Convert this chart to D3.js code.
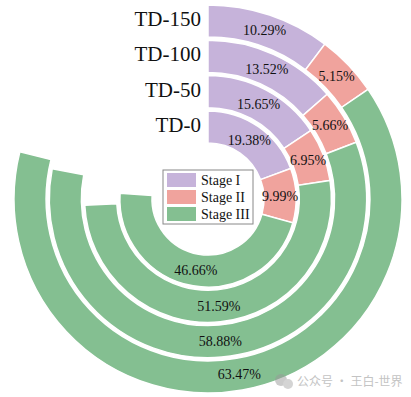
<!DOCTYPE html>
<html>
<head>
<meta charset="utf-8">
<script src="https://cdn.jsdelivr.net/npm/d3@7"></script>
<style>
  body { margin: 0; background: #fff; }
  svg { display: block; font-family: "Liberation Serif", "Times New Roman", serif; }
</style>
</head>
<body>
<div id="chart"></div>
<script>
// Radial stacked bar chart

const groups = ['TD-0', 'TD-50', 'TD-100', 'TD-150'];
const stages = ['Stage I', 'Stage II', 'Stage III'];
const stageI = [19.38, 15.65, 13.52, 10.29];
const stageII = [9.99, 6.95, 5.66, 5.15];
const stageIII = [46.66, 51.59, 58.88, 63.47];
const colors = ['#c6b3da', '#f0a39d', '#84bf91'];

const width = 411;
const height = 397;
const cx = 208;
const cy = 199;

const svg = d3.select('#chart').append('svg')
  .attr('width', width)
  .attr('height', height);

const g = svg.append('g')
  .attr('transform', `translate(${cx},${cy})`);

// Scales
const angle = d3.scaleLinear()
  .domain([0, 100])
  .range([0, 2 * Math.PI]);

const radius = d3.scaleBand()
  .domain(groups)
  .range([56, 194])
  .paddingInner(0.09);

const color = d3.scaleOrdinal()
  .domain(stages)
  .range(colors);

// Build segments
const series = [stageI, stageII, stageIII];
const segments = [];
groups.forEach((grp, i) => {
  let start = 0;
  stages.forEach((st, j) => {
    const v = series[j][i];
    segments.push({ group: grp, stage: st, value: v, start: start, end: start + v });
    start += v;
  });
});

const arc = d3.arc()
  .innerRadius(d => radius(d.group))
  .outerRadius(d => radius(d.group) + radius.bandwidth())
  .startAngle(d => angle(d.start))
  .endAngle(d => angle(d.end));

g.selectAll('path.seg')
  .data(segments)
  .enter()
  .append('path')
  .attr('class', 'seg')
  .attr('d', arc)
  .attr('fill', d => color(d.stage))
  .attr('stroke', '#fff')
  .attr('stroke-width', 1.5);

// Value labels
g.selectAll('text.val')
  .data(segments)
  .enter()
  .append('text')
  .attr('class', 'val')
  .attr('transform', d => {
    const c = arc.centroid(d);
    return `translate(${c[0]},${c[1]})`;
  })
  .attr('text-anchor', 'middle')
  .attr('dy', '0.35em')
  .style('font-size', '14px')
  .style('fill', '#111')
  .text(d => `${d.value.toFixed(2)}%`);

// Group labels
g.selectAll('text.grp')
  .data(groups)
  .enter()
  .append('text')
  .attr('class', 'grp')
  .attr('x', -7)
  .attr('y', d => -(radius(d) + radius.bandwidth() / 2) + 5)
  .attr('text-anchor', 'end')
  .style('font-size', '21px')
  .style('fill', '#111')
  .text(d => d);

// Legend
const legend = svg.append('g')
  .attr('transform', 'translate(163,170)');

legend.append('rect')
  .attr('width', 90)
  .attr('height', 54)
  .attr('fill', '#fff')
  .attr('stroke', '#888')
  .attr('stroke-width', 1);

const items = legend.selectAll('g.item')
  .data(stages)
  .enter()
  .append('g')
  .attr('class', 'item')
  .attr('transform', (d, i) => `translate(4,${3 + i * 17})`);

items.append('rect')
  .attr('width', 29)
  .attr('height', 14)
  .attr('fill', d => color(d));

items.append('text')
  .attr('x', 34)
  .attr('y', 12)
  .style('font-size', '14px')
  .style('fill', '#111')
  .text(d => d);

// Watermark
const wm = svg.append('g')
  .attr('transform', 'translate(281,381)')
  .style('opacity', 0.5);

wm.append('circle').attr('cx', 0).attr('cy', -1).attr('r', 6).attr('fill', '#999');
wm.append('circle').attr('cx', 7).attr('cy', 3).attr('r', 5).attr('fill', '#aaa');

wm.append('text')
  .attr('x', 16)
  .attr('y', 5)
  .style('font-family', '"Noto Sans CJK SC", sans-serif')
  .style('font-size', '12px')
  .style('fill', '#888')
  .text('公众号 · 王白-世界');
</script>
</body>
</html>
